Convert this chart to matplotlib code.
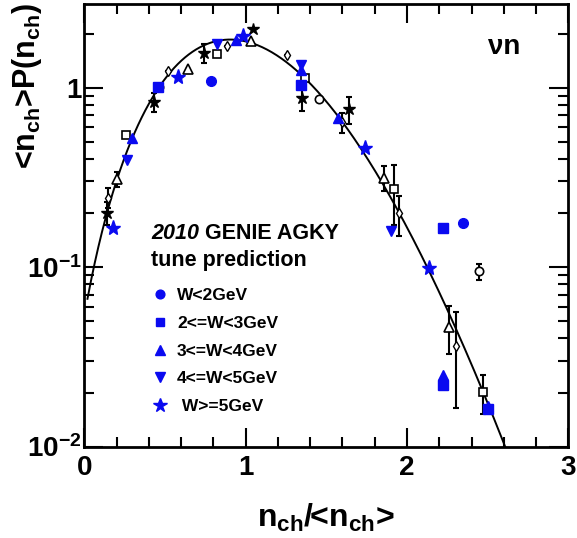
#!/usr/bin/env python
# -*- coding: utf-8 -*-

import math

import matplotlib
matplotlib.use('Agg')
import matplotlib.pyplot as plt
import numpy as np
from matplotlib.ticker import MultipleLocator, LogLocator, NullFormatter

plt.rcParams['font.family'] = ['Liberation Sans', 'DejaVu Sans']
plt.rcParams['mathtext.fontset'] = 'custom'
plt.rcParams['mathtext.rm'] = 'Liberation Sans:bold'
plt.rcParams['mathtext.bf'] = 'Liberation Sans:bold'
plt.rcParams['mathtext.it'] = 'Liberation Sans:bold:italic'
plt.rcParams['mathtext.default'] = 'bf'

# Measured KNO scaled multiplicities (black, with errors)
diam_z = [0.145, 0.521, 0.883, 1.259, 1.596, 1.951, 2.304]
diam_y = [0.244, 1.232, 1.696, 1.511, 0.641, 0.199, 0.0363]
diam_e = [0.03, 0.0, 0.0, 0.0, 0.08, 0.05, 0.02]

bstar_z = [0.143, 0.432, 0.744, 1.044, 1.352, 1.639]
bstar_y = [0.201, 0.833, 1.559, 2.118, 0.877, 0.755]
bstar_e = [0.03, 0.10, 0.19, 0.0, 0.14, 0.13]

tri_z = [0.201, 0.641, 1.033, 1.858, 2.261]
tri_y = [0.308, 1.270, 1.808, 0.315, 0.0466]
tri_e = [0.03, 0.0, 0.0, 0.05, 0.014]

sq_z = [0.259, 0.821, 1.368, 1.920, 2.474]
sq_y = [0.541, 1.539, 1.132, 0.271, 0.0201]
sq_e = [0.0, 0.0, 0.0, 0.10, 0.005]

circ_z = [0.465, 1.457, 2.449]
circ_y = [1.009, 0.865, 0.0947]
circ_e = [0.0, 0.0, 0.0095]

# GENIE predictions per hadronic invariant mass bin (blue)
w1_z = [0.784, 2.346]
w1_y = [1.084, 0.177]
w2_z = [0.455, 1.342, 2.226, 2.226, 2.505]
w2_y = [1.009, 1.030, 0.164, 0.0219, 0.0161]
w3_z = [0.298, 0.940, 1.342, 1.575, 2.226, 2.505]
w3_y = [0.526, 1.832, 1.259, 0.679, 0.0249, 0.0169]
w4_z = [0.263, 0.821, 1.342, 1.901]
w4_y = [0.395, 1.749, 1.330, 0.159]
w5_z = [0.180, 0.579, 0.982, 1.740, 2.139]
w5_y = [0.166, 1.141, 1.945, 0.458, 0.0984]

w_labels = ['W<2GeV', '2<=W<3GeV', '3<=W<4GeV', '4<=W<5GeV', ' W>=5GeV']

# Levy function parameter of the AGKY tune
levy_c = 5.3


def levy(z, c):
    return np.array([2.0 * math.exp(-c + (c * zz + 1.0) * math.log(c)
                                    - math.lgamma(c * zz + 1.0)) for zz in z])


fig = plt.figure(figsize=(5.77, 5.38), dpi=100, facecolor='w')
ax = fig.add_axes([0.146, 0.170, 0.839, 0.823])

zz = np.linspace(0.02, 3.0, 400)
ax.plot(zz, levy(zz, levy_c), color='k', lw=1.4, zorder=2)

ebar = dict(fmt='none', ecolor='k', elinewidth=1.5, capsize=2.5, capthick=1.5, zorder=3)
for z, y, e in [(diam_z, diam_y, diam_e), (bstar_z, bstar_y, bstar_e),
                (tri_z, tri_y, tri_e), (sq_z, sq_y, sq_e), (circ_z, circ_y, circ_e)]:
    ax.errorbar(z, y, yerr=e, **ebar)

ax.plot(diam_z, diam_y, 'd', ms=5, mfc='w', mec='k', mew=1.0, ls='none', zorder=4)
ax.plot(bstar_z, bstar_y, '*', ms=9, mfc='k', mec='k', ls='none', zorder=4)
ax.plot(tri_z, tri_y, '^', ms=6.5, mfc='w', mec='k', mew=1.2, ls='none', zorder=4)
ax.plot(sq_z, sq_y, 's', ms=6, mfc='w', mec='k', mew=1.2, ls='none', zorder=4)
ax.plot(circ_z, circ_y, 'o', ms=6, mfc='w', mec='k', mew=1.2, ls='none', zorder=4)

blue = '#0a0af0'
h1, = ax.plot(w1_z, w1_y, 'o', ms=7, color=blue, ls='none', zorder=5)
h2, = ax.plot(w2_z, w2_y, 's', ms=7, color=blue, ls='none', zorder=5)
h3, = ax.plot(w3_z, w3_y, '^', ms=7.5, color=blue, ls='none', zorder=5)
h4, = ax.plot(w4_z, w4_y, 'v', ms=7.5, color=blue, ls='none', zorder=5)
h5, = ax.plot(w5_z, w5_y, '*', ms=11, color=blue, ls='none', zorder=5)

# Axis ranges and ticks
ax.set_yscale('log')
ax.set_xlim(0, 3)
ax.set_ylim(0.01, 2.93)
ax.xaxis.set_major_locator(MultipleLocator(1))
ax.xaxis.set_minor_locator(MultipleLocator(0.2))
ax.set_xticks([0, 1, 2, 3], ['0', '1', '2', '3'])
ax.set_yticks([0.01, 0.1, 1], [r'$10^{-2}$', r'$10^{-1}$', '1'])
ax.yaxis.set_minor_locator(LogLocator(base=10, subs=np.arange(2, 10)))
ax.yaxis.set_minor_formatter(NullFormatter())
ax.tick_params(which='both', direction='in', top=True, right=True, width=1.5)
ax.tick_params(which='major', length=14, labelsize=20)
ax.tick_params(axis='y', which='major', pad=2)
ax.tick_params(axis='x', which='major', pad=6)
ax.tick_params(which='minor', length=7)
for lab in ax.get_xticklabels() + ax.get_yticklabels():
    lab.set_fontweight('bold')
for sp in ax.spines.values():
    sp.set_linewidth(2)

ax.set_xlabel(r'n$_{ch}$/<n$_{ch}$>', fontsize=23, fontweight='bold', labelpad=15)
fig.text(27 / 577, 1 - 3 / 538, r'<n$_{ch}$>P(n$_{ch}$)', rotation=90,
         ha='center', va='top', fontsize=22, fontweight='bold')

ax.text(0.834, 0.886, u'\u03bdn', transform=ax.transAxes, fontsize=20, fontweight='bold')

# Legend for the GENIE W bins
t1 = ax.text(0.138, 0.468, '2010', transform=ax.transAxes,
             fontsize=15.5, fontweight='bold', style='italic')
ax.annotate(' GENIE AGKY', xy=(1, 0), xycoords=t1, va='bottom',
            fontsize=15.5, fontweight='bold')
ax.text(0.138, 0.407, 'tune prediction', transform=ax.transAxes,
        fontsize=15.5, fontweight='bold')
ax.legend([h1, h2, h3, h4, h5], w_labels, loc='upper left', bbox_to_anchor=(0.10, 0.393),
          frameon=False, prop={'size': 12.5, 'weight': 'bold'}, handletextpad=0.25,
          labelspacing=0.72, handlelength=1.4, markerscale=0.9)

fig.savefig('out.png', dpi=100)
